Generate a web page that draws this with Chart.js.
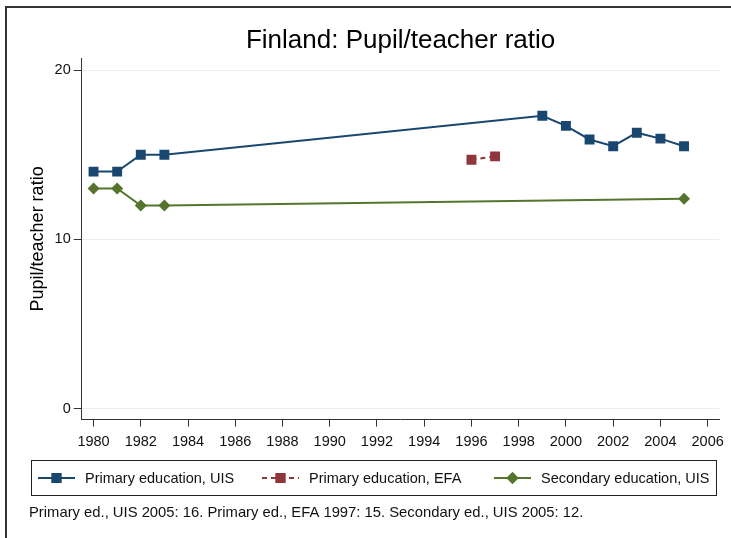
<!DOCTYPE html>
<html>
<head>
<meta charset="utf-8">
<script src="https://cdn.jsdelivr.net/npm/chart.js@4.4.0/dist/chart.umd.min.js"></script>
<style>
  html, body { margin: 0; padding: 0; background: #fff; }
  #wrap { width: 731px; height: 538px; position: relative; }
</style>
</head>
<body>
<div id="wrap"><canvas id="chart" width="731" height="538"></canvas></div>
<script>
'use strict';

var FONT = "'Liberation Sans', Arial, sans-serif";

// data
var YEARS_UIS = [1980, 1981, 1982, 1983, 1999, 2000, 2001, 2002, 2003, 2004, 2005];
var PRIMARY_UIS = [14.0, 14.0, 15.0, 15.0, 17.3, 16.7, 15.9, 15.5, 16.3, 15.95, 15.5];
var YEARS_EFA = [1996, 1997];
var PRIMARY_EFA = [14.7, 14.9];
var YEARS_SEC = [1980, 1981, 1982, 1983, 2005];
var SECONDARY_UIS = [13.0, 13.0, 12.0, 12.0, 12.4];
var X_TICKS = [1980, 1982, 1984, 1986, 1988, 1990, 1992, 1994, 1996, 1998, 2000, 2002, 2004, 2006];
var Y_TICKS = [0, 10, 20];
var LABELS = ['Primary education, UIS', 'Primary education, EFA', 'Secondary education, UIS'];
var NOTE = 'Primary ed., UIS 2005: 16. Primary ed., EFA 1997: 15. Secondary ed., UIS 2005: 12.';

var NAVY = '#1a476f', MAROON = '#90353b', GREEN = '#55752f';

var pairs = function(xs, ys) {
	return xs.map(function(x, i) { return {x: x, y: ys[i]}; });
};

// outer frame, boxed legend and note under the plot
var extras = {
	id: 'extras',
	afterDraw: function(chart) {
		var ctx = chart.ctx;
		ctx.save();
		// frame
		ctx.strokeStyle = '#333';
		ctx.lineWidth = 2;
		ctx.beginPath();
		ctx.moveTo(6, 538); ctx.lineTo(6, 7); ctx.lineTo(731, 7);
		ctx.stroke();

		// legend box
		ctx.lineWidth = 1;
		ctx.strokeStyle = '#222';
		ctx.strokeRect(31.5, 460.5, 685, 35);

		var items = [
			{x: 38, color: NAVY, dash: [], style: 'rect', label: LABELS[0]},
			{x: 262, color: MAROON, dash: [5, 4], style: 'rect', label: LABELS[1]},
			{x: 494, color: GREEN, dash: [], style: 'rectRot', label: LABELS[2]}
		];
		var cy = 478;
		items.forEach(function(it) {
			ctx.strokeStyle = it.color;
			ctx.lineWidth = 2;
			ctx.setLineDash(it.dash);
			ctx.beginPath();
			ctx.moveTo(it.x, cy); ctx.lineTo(it.x + 37, cy);
			ctx.stroke();
			ctx.setLineDash([]);
			ctx.fillStyle = it.color;
			Chart.helpers.drawPoint(ctx, {pointStyle: it.style, radius: it.style === 'rect' ? 7 : 6, rotation: 0, borderWidth: 0}, it.x + 18.5, cy);
			ctx.fill();
			ctx.fillStyle = '#111';
			ctx.font = '14.5px ' + FONT;
			ctx.textBaseline = 'middle';
			ctx.fillText(it.label, it.x + 47, cy + 1);
		});

		// note
		ctx.fillStyle = '#111';
		ctx.font = '14.8px ' + FONT;
		ctx.textBaseline = 'middle';
		ctx.fillText(NOTE, 29, 513);
		ctx.restore();
	}
};

var ctx = document.getElementById('chart').getContext('2d');
var chart = new Chart(ctx, {
	type: 'line',
	data: {
		datasets: [{
			label: LABELS[0],
			data: pairs(YEARS_UIS, PRIMARY_UIS),
			borderColor: NAVY,
			backgroundColor: NAVY,
			borderWidth: 2,
			pointStyle: 'rect',
			pointRadius: 7,
			pointBorderWidth: 0
		}, {
			label: LABELS[1],
			data: pairs(YEARS_EFA, PRIMARY_EFA),
			borderColor: MAROON,
			backgroundColor: MAROON,
			borderWidth: 2,
			borderDash: [5, 4],
			pointStyle: 'rect',
			pointRadius: 7,
			pointBorderWidth: 0
		}, {
			label: LABELS[2],
			data: pairs(YEARS_SEC, SECONDARY_UIS),
			borderColor: GREEN,
			backgroundColor: GREEN,
			borderWidth: 2,
			pointStyle: 'rectRot',
			pointRadius: 6,
			pointBorderWidth: 0
		}]
	},
	options: {
		responsive: false,
		animation: false,
		layout: {
			padding: {top: 20, left: 27, right: 5, bottom: 80}
		},
		plugins: {
			legend: {display: false},
			tooltip: {enabled: false},
			title: {
				display: true,
				fullSize: false,
				text: 'Finland: Pupil/teacher ratio',
				color: '#000',
				font: {family: FONT, size: 26, weight: 'normal'},
				padding: {top: 5, bottom: 2}
			}
		},
		scales: {
			x: {
				type: 'linear',
				min: 1979.5,
				max: 2006.5,
				afterBuildTicks: function(axis) {
					axis.ticks = X_TICKS.map(function(v) { return {value: v}; });
				},
				ticks: {
					color: '#111',
					font: {family: FONT, size: 14.5},
					padding: 7,
					maxRotation: 0,
					autoSkip: false,
					callback: function(v) { return String(v); }
				},
				grid: {
					drawOnChartArea: false,
					drawTicks: true,
					tickLength: 7,
					tickColor: '#333'
				},
				border: {display: true, color: '#333', width: 1}
			},
			y: {
				min: -0.65,
				max: 20.7,
				afterBuildTicks: function(axis) {
					axis.ticks = Y_TICKS.map(function(v) { return {value: v}; });
				},
				title: {
					display: true,
					text: 'Pupil/teacher ratio',
					color: '#000',
					font: {family: FONT, size: 18},
					padding: {top: 0, bottom: 3}
				},
				ticks: {
					color: '#111',
					font: {family: FONT, size: 14.5},
					padding: 3
				},
				grid: {
					color: '#e8f0f2',
					lineWidth: 1,
					drawTicks: true,
					tickLength: 8,
					tickColor: '#333'
				},
				border: {display: true, color: '#333', width: 1}
			}
		}
	},
	plugins: [extras]
});
</script>
</body>
</html>
